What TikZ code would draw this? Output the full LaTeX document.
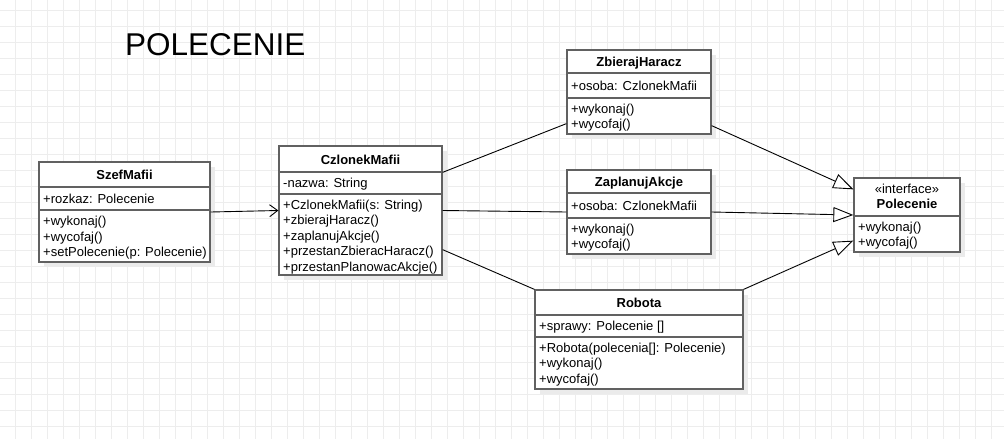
\documentclass[tikz,border=0pt]{standalone}
\usepackage{fontspec}
\setmainfont{Liberation Sans}
\usepackage{tikz}
\usetikzlibrary{arrows.meta,shadows}

\begin{document}
\begin{tikzpicture}[x=1pt, y=-1pt,
    classbox/.style={draw=black!62, line width=1.3pt, fill=white,
      drop shadow={shadow xshift=5pt, shadow yshift=-5pt, fill=black!8, opacity=1}},
    classline/.style={draw=black!62, line width=1.3pt},
    gridline/.style={draw=black!7, line width=0.7pt},
    member/.style={inner sep=0pt, align=left, font=\fontsize{13}{15.5}\selectfont},
    classname/.style={inner sep=0pt, font=\fontsize{13}{15}\selectfont\bfseries},
    assoc/.style={draw=black, line width=0.9pt},
    navarrow/.style={assoc, -{Straight Barb[length=8pt, width=12pt]}},
    realize/.style={assoc, -{Triangle[open, length=20pt, width=15pt, fill=white]}}]

    \useasboundingbox (0,0) rectangle (1004,439);
    \fill[white] (0,0) rectangle (1004,439);

    % grid
    \foreach \x in {15,31,...,1003} \draw[gridline] (\x,0) -- (\x,439);
    \foreach \y in {10,26,...,438} \draw[gridline] (0,\y) -- (1004,\y);

    % title
    \node[anchor=west, inner sep=0pt, font=\fontsize{31.5}{36}\selectfont] (title) at (125,45) {POLECENIE};

    % SzefMafii
    \node[classbox, minimum width=171pt, minimum height=100pt] (szef) at (124.5,212) {};
    \draw[classline] (39,187) -- (210,187);
    \draw[classline] (39,210) -- (210,210);
    \node[classname, anchor=base] (szef-name) at (124.5,179.5) {SzefMafii};
    \node[member, anchor=base west] (szef-attr) at (43,203) {+rozkaz: Polecenie};
    \node[member, anchor=north west] (szef-ops) at (43,216) {+wykonaj()\\+wycofaj()\\+setPolecenie(p: Polecenie)};

    % CzlonekMafii
    \node[classbox, minimum width=163pt, minimum height=129pt] (czlonek) at (360.5,210.5) {};
    \draw[classline] (279,172) -- (442,172);
    \draw[classline] (279,194) -- (442,194);
    \node[classname, anchor=base] (czlonek-name) at (360.5,164) {CzlonekMafii};
    \node[member, anchor=base west] (czlonek-attr) at (283,187.5) {-nazwa: String};
    \node[member, anchor=north west] (czlonek-ops) at (283,199.5) {+CzlonekMafii(s: String)\\+zbierajHaracz()\\+zaplanujAkcje()\\+przestanZbieracHaracz()\\+przestanPlanowacAkcje()};

    % ZbierajHaracz
    \node[classbox, minimum width=144pt, minimum height=84pt] (zbieraj) at (639,92) {};
    \draw[classline] (567,73) -- (711,73);
    \draw[classline] (567,98) -- (711,98);
    \node[classname, anchor=base] (zbieraj-name) at (639,66.5) {ZbierajHaracz};
    \node[member, anchor=base west] (zbieraj-attr) at (571,90) {+osoba: CzlonekMafii};
    \node[member, anchor=north west] (zbieraj-ops) at (571,103.5) {+wykonaj()\\+wycofaj()};

    % ZaplanujAkcje
    \node[classbox, minimum width=144pt, minimum height=84pt] (zaplanuj) at (639,212) {};
    \draw[classline] (567,193) -- (711,193);
    \draw[classline] (567,218) -- (711,218);
    \node[classname, anchor=base] (zaplanuj-name) at (639,186.5) {ZaplanujAkcje};
    \node[member, anchor=base west] (zaplanuj-attr) at (571,210) {+osoba: CzlonekMafii};
    \node[member, anchor=north west] (zaplanuj-ops) at (571,223.5) {+wykonaj()\\+wycofaj()};

    % Robota
    \node[classbox, minimum width=208pt, minimum height=99pt] (robota) at (639,339.5) {};
    \draw[classline] (535,315) -- (743,315);
    \draw[classline] (535,337) -- (743,337);
    \node[classname, anchor=base] (robota-name) at (639,307.5) {Robota};
    \node[member, anchor=base west] (robota-attr) at (539,330.5) {+sprawy: Polecenie []};
    \node[member, anchor=north west] (robota-ops) at (539,342.5) {+Robota(polecenia[]: Polecenie)\\+wykonaj()\\+wycofaj()};

    % Polecenie
    \node[classbox, minimum width=106pt, minimum height=74pt] (polecenie) at (907,215) {};
    \draw[classline] (854,216) -- (960,216);
    \node[member, anchor=base] (polecenie-stereo) at (907,193.5) {«interface»};
    \node[classname, anchor=base] (polecenie-name) at (907,208) {Polecenie};
    \node[member, anchor=north west] (polecenie-ops) at (858,221.5) {+wykonaj()\\+wycofaj()};

    % connectors
    \draw[navarrow] (szef.east) -- (czlonek.west);
    \draw[assoc] ([yshift=-27pt]czlonek.north east) -- ([yshift=11pt]zbieraj.south west);
    \draw[assoc] (czlonek.east) -- (zaplanuj.west);
    \draw[assoc] ([yshift=26pt]czlonek.south east) -- (robota.north west);
    \draw[realize] ([yshift=9pt]zbieraj.south east) -- ([yshift=-12pt]polecenie.north west);
    \draw[realize] (zaplanuj.east) -- (polecenie.west);
    \draw[realize] (robota.north east) -- ([yshift=12pt]polecenie.south west);
\end{tikzpicture}
\end{document}
